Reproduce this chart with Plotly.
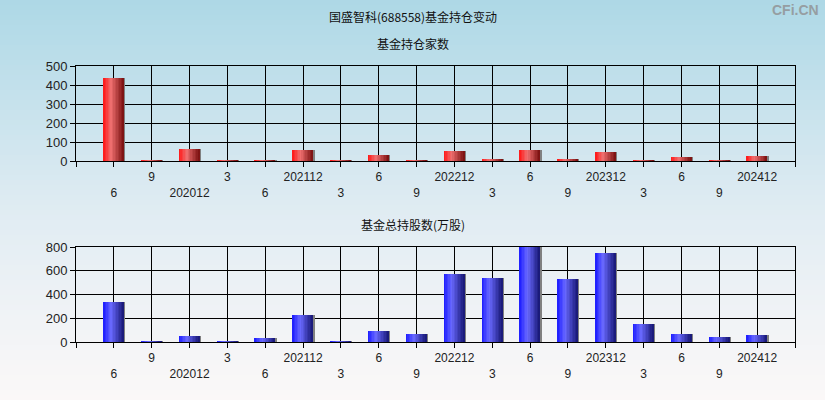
import plotly.graph_objects as go

# ---------------- data ----------------
tick_labels = ["6", "9", "202012", "3", "6", "202112", "3", "6", "9",
               "202212", "3", "6", "9", "202312", "3", "6", "9", "202412"]
fund_counts = [435, 5, 64, 4, 4, 58, 4, 32, 4, 53, 11, 58, 11, 48, 4, 21, 4, 26]
fund_shares = [341, 8, 54, 8, 37, 231, 8, 96, 70, 569, 535, 805, 527, 746, 155, 70, 45, 62]

title_text = "国盛智科(688558)基金持仓变动"
sub1_text = "基金持仓家数"
sub2_text = "基金总持股数(万股)"

# ---------------- styling helpers ----------------
W, H = 825, 400
positions = list(range(len(tick_labels)))
BAR_W = 0.54
N_SLICES = 14


def lerp(c1, c2, t):
    return tuple(round(a + (b - a) * t) for a, b in zip(c1, c2))


def grad_color(stops, t):
    for (t0, c0), (t1, c1) in zip(stops, stops[1:]):
        if t <= t1:
            return "rgb(%d,%d,%d)" % lerp(c0, c1, (t - t0) / (t1 - t0) if t1 > t0 else 0)
    return "rgb(%d,%d,%d)" % stops[-1][1]


red_stops = [(0.0, (255, 20, 20)), (0.38, (240, 112, 112)), (1.0, (120, 14, 14))]
blue_stops = [(0.0, (25, 25, 255)), (0.38, (105, 105, 255)), (1.0, (22, 22, 115))]

fig = go.Figure()


def add_cyl_bars(values, stops, xa, ya):
    # gray shadow on the right
    fig.add_trace(go.Bar(x=positions, y=values, xaxis=xa, yaxis=ya,
                         offset=BAR_W / 2 - 0.01, width=0.045,
                         marker=dict(color="rgb(128,128,128)", line=dict(width=0)),
                         showlegend=False, hoverinfo="skip"))
    w = BAR_W / N_SLICES
    for i in range(N_SLICES):
        t = (i + 0.5) / N_SLICES
        fig.add_trace(go.Bar(x=positions, y=values, xaxis=xa, yaxis=ya,
                             offset=-BAR_W / 2 + i * w, width=w * 1.25 if i < N_SLICES - 1 else w,
                             marker=dict(color=grad_color(stops, t), line=dict(width=0)),
                             showlegend=False, hoverinfo="skip"))


add_cyl_bars(fund_counts, red_stops, "x", "y")
add_cyl_bars(fund_shares, blue_stops, "x2", "y2")

# tick text in two staggered rows
ticktext = [""]
for i, lab in enumerate(tick_labels):
    ticktext.append(lab if i % 2 == 1 else "\u00a0<br>" + lab)
ticktext.append("")
tickvals = list(range(-1, len(tick_labels) + 1))

xcommon = dict(range=[-1, len(tick_labels)], tickmode="array", tickvals=tickvals,
               ticktext=ticktext, showgrid=True, gridcolor="black", gridwidth=1,
               showline=True, linecolor="black", linewidth=1, mirror=True,
               ticks="outside", ticklen=5, tickcolor="black", zeroline=False,
               automargin=False,
               tickfont=dict(family="Liberation Sans, Arial", size=12, color="#222"),
               fixedrange=True)
ycommon = dict(showgrid=True, gridcolor="black", gridwidth=1,
               showline=True, linecolor="black", linewidth=1, mirror=True,
               ticks="outside", ticklen=5, tickcolor="black", zeroline=False,
               automargin=False,
               tickfont=dict(family="Liberation Sans, Arial", size=13, color="#222"),
               fixedrange=True)

x0, x1 = 76 / W, 795 / W
fig.update_layout(
    width=W, height=H,
    margin=dict(l=0, r=0, t=0, b=0, pad=0),
    barmode="overlay",
    bargap=0,
    paper_bgcolor="rgb(250,248,248)",
    plot_bgcolor="rgba(0,0,0,0)",
    xaxis=dict(domain=[x0, x1], anchor="y", **xcommon),
    yaxis=dict(domain=[1 - 161 / H, 1 - 66 / H], anchor="x", range=[0, 500], dtick=100, **ycommon),
    xaxis2=dict(domain=[x0, x1], anchor="y2", **xcommon),
    yaxis2=dict(domain=[1 - 342 / H, 1 - 247 / H], anchor="x2", range=[0, 800], dtick=200, **ycommon),
)

# vertical background gradient
bg_stops = [(0.0, (173, 216, 230)), (0.5, (222, 235, 242)), (0.72, (236, 241, 245)), (1.0, (251, 248, 248))]
NB = 80
shapes = []
for i in range(NB):
    t = (i + 0.5) / NB
    shapes.append(dict(type="rect", xref="paper", yref="paper", x0=0, x1=1,
                       y0=1 - (i + 1) / NB - 0.001, y1=1 - i / NB,
                       fillcolor=grad_color(bg_stops, t), line=dict(width=0), layer="below"))
fig.update_layout(shapes=shapes)

cjk = "Noto Sans CJK SC"
fig.add_annotation(text=title_text, x=0.5, y=1 - 17 / H, xref="paper", yref="paper",
                   showarrow=False, xanchor="center", yanchor="middle",
                   font=dict(family=cjk, size=12, color="#111"))
fig.add_annotation(text=sub1_text, x=0.5, y=1 - 43 / H, xref="paper", yref="paper",
                   showarrow=False, xanchor="center", yanchor="middle",
                   font=dict(family=cjk, size=12, color="#111"))
fig.add_annotation(text=sub2_text, x=0.5, y=1 - 224 / H, xref="paper", yref="paper",
                   showarrow=False, xanchor="center", yanchor="middle",
                   font=dict(family=cjk, size=12, color="#111"))
fig.add_annotation(text="<b>CFi.CN</b>", x=821 / W, y=1 - 10 / H, xref="paper", yref="paper",
                   showarrow=False, xanchor="right", yanchor="middle",
                   font=dict(family="Liberation Sans Narrow, Liberation Sans, Arial", size=14, color="rgb(150,158,162)"))

fig.write_html("out.html", config={"displayModeBar": False},
               post_script="document.body.style.margin='0';document.body.style.overflow='hidden';")
